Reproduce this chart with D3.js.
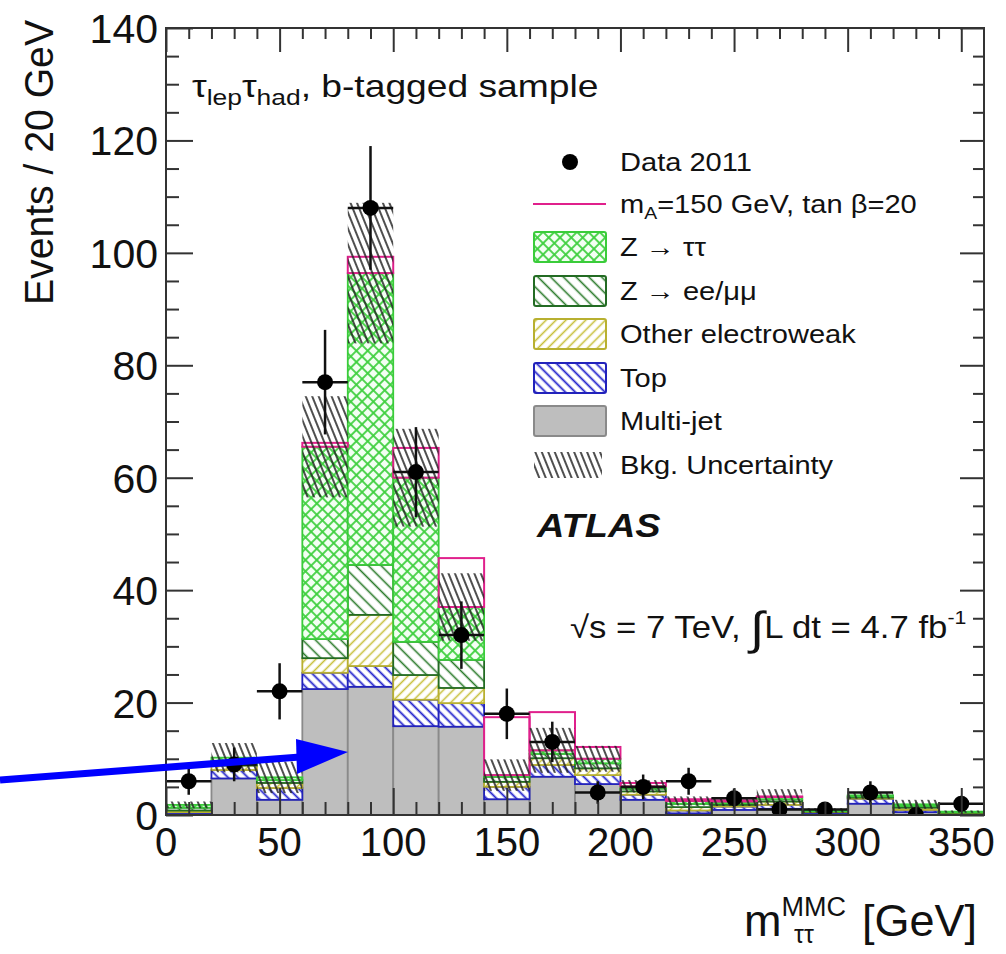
<!DOCTYPE html>
<html>
<head>
<meta charset="utf-8">
<script src="https://cdn.jsdelivr.net/npm/d3@7"></script>
<style>
  body { margin: 0; background: #fff; }
  text { font-family: "Liberation Sans", Arial, Helvetica, sans-serif; fill: #111; }
</style>
</head>
<body>
<svg id="plot" width="1006" height="954"></svg>
<script>
// bins of 20 GeV, lower edges
var binLow = [0, 20, 40, 60, 80, 100, 120, 140, 160, 180, 200, 220, 240, 260, 280, 300, 320, 340];
var binWidth = 20;

// stacked backgrounds, bottom to top
var multiJet = [0.2, 6.5, 2.7, 22.4, 22.8, 15.8, 15.7, 2.8, 6.8, 5.5, 2.7, 0.3, 0.9, 1.1, 0.2, 2.0, 0.5, 0.1];
var topQ     = [0.3, 1.5, 2.1, 2.9, 3.7, 4.7, 4.2, 2.2, 2.1, 1.6, 0.9, 0.5, 0.6, 0.7, 0.3, 0.9, 0.4, 0.2];
var otherEW  = [0.3, 0.8, 0.9, 2.6, 9.1, 4.4, 2.7, 0.9, 1.2, 1.2, 0.6, 0.6, 0.3, 0.6, 0.1, 0.2, 0.4, 0.1];
var zll      = [0.5, 0.8, 0.5, 3.4, 8.9, 5.9, 5.0, 0.9, 0.8, 0.9, 0.5, 0.6, 0.3, 0.4, 0.1, 0.2, 0.3, 0.1];
var ztt      = [0.5, 0.6, 0.5, 34.2, 51.9, 29.2, 9.4, 0.3, 0.6, 0.8, 0.4, 0.5, 0.3, 0.4, 0.1, 0.2, 0.3, 0.1];
// signal mA=150, tan beta=20 stacked on top
var signal   = [0, 0, 0, 0.7, 2.9, 5.3, 8.7, 10.3, 6.8, 2.1, 0.6, 0.3, 0.2, 0.1, 0, 0, 0, 0];
// background uncertainty (half width of band)
var bkgUnc   = [0.6, 2.6, 2.8, 9.0, 12.5, 8.7, 6.0, 2.8, 4.0, 2.3, 1.1, 0.8, 0.8, 1.4, 0.4, 0.6, 0.8, 0.2];
// data 2011
var dataVal  = [6, 9, 22, 77, 108, 61, 32, 18, 13, 4, 5, 6, 3, 1, 1, 4, 0, 2];
var dataErr  = [2.4, 3, 5, 9.3, 11, 8, 6, 4.5, 3.6, 2, 2.2, 2.4, 1.7, 1, 1, 2, 0, 1.4];

var xMajor = [0, 50, 100, 150, 200, 250, 300, 350];
var xMinor = [10, 20, 30, 40, 60, 70, 80, 90, 110, 120, 130, 140, 160, 170, 180, 190, 210, 220, 230, 240, 260, 270, 280, 290, 310, 320, 330, 340];
var yMajor = [0, 20, 40, 60, 80, 100, 120, 140];
var yMinor = [5, 10, 15, 25, 30, 35, 45, 50, 55, 65, 70, 75, 85, 90, 95, 105, 110, 115, 125, 130, 135];

var svg = d3.select("#plot");
var margin = {top: 28, right: 22, bottom: 139, left: 166};
var width = 1006 - margin.left - margin.right,
    height = 954 - margin.top - margin.bottom;

var x = d3.scaleLinear().domain([0, 360]).range([margin.left, margin.left + width]);
var y = d3.scaleLinear().domain([0, 140]).range([margin.top + height, margin.top]);

var defs = svg.append("defs");
defs.append("clipPath").attr("id", "clip")
  .append("rect").attr("x", margin.left).attr("y", margin.top).attr("width", width).attr("height", height);

function hatch(id, color, angle, spacing, lw, bg) {
  var p = defs.append("pattern").attr("id", id)
    .attr("patternUnits", "userSpaceOnUse")
    .attr("width", spacing).attr("height", spacing)
    .attr("patternTransform", "rotate(" + angle + ")");
  if (bg) p.append("rect").attr("width", spacing).attr("height", spacing).attr("fill", bg);
  p.append("line").attr("x1", spacing / 2).attr("x2", spacing / 2).attr("y1", 0).attr("y2", spacing)
    .attr("stroke", color).attr("stroke-width", lw);
  return p;
}
var cross = hatch("p-ztt", "#3fd03f", 45, 8, 1.8, "#f3fff3");
cross.append("line").attr("x1", 0).attr("x2", 8).attr("y1", 4).attr("y2", 4)
  .attr("stroke", "#3fd03f").attr("stroke-width", 1.8);
hatch("p-zll", "#2a7a2a", -45, 9, 1.6, "#ffffff");
hatch("p-ew", "#c8c03c", 45, 7, 1.6, "#ffffff");
hatch("p-top", "#2222cc", -45, 7, 1.8, "#ffffff");
hatch("p-unc", "#222222", -22, 6, 1.6, null);

var comps = [
  {name: "multijet", vals: multiJet, fill: "#bebebe", stroke: "#8a8a8a"},
  {name: "top", vals: topQ, fill: "url(#p-top)", stroke: "#2222bb"},
  {name: "ew", vals: otherEW, fill: "url(#p-ew)", stroke: "#b8b030"},
  {name: "zll", vals: zll, fill: "url(#p-zll)", stroke: "#236b23"},
  {name: "ztt", vals: ztt, fill: "url(#p-ztt)", stroke: "#3acc3a"}
];

// cumulative stack
var base = binLow.map(function() { return 0; });
var stackData = [];
comps.forEach(function(c, ci) {
  c.vals.forEach(function(v, i) {
    stackData.push({ci: ci, x0: binLow[i], y0: base[i], y1: base[i] + v, c: c});
    base[i] += v;
  });
});
var bkgTotal = base.slice();

var plotG = svg.append("g").attr("clip-path", "url(#clip)");

plotG.selectAll("rect.stack")
  .data(stackData)
  .enter().append("rect")
  .attr("class", "stack")
  .attr("x", function(d) { return x(d.x0); })
  .attr("width", function(d) { return x(d.x0 + binWidth) - x(d.x0); })
  .attr("y", function(d) { return y(d.y1); })
  .attr("height", function(d) { return Math.max(0, y(d.y0) - y(d.y1)); })
  .attr("fill", function(d) { return d.c.fill; })
  .attr("stroke", function(d) { return d.c.stroke; })
  .attr("stroke-width", 1.8);

// signal outline on top of background
plotG.selectAll("rect.sig")
  .data(binLow.filter(function(b, i) { return signal[i] > 0; }))
  .enter().append("rect")
  .attr("class", "sig")
  .attr("x", function(b) { return x(b); })
  .attr("width", x(binWidth) - x(0))
  .attr("y", function(b) { var i = binLow.indexOf(b); return y(bkgTotal[i] + signal[i]); })
  .attr("height", function(b) { var i = binLow.indexOf(b); return y(bkgTotal[i]) - y(bkgTotal[i] + signal[i]); })
  .attr("fill", "none")
  .attr("stroke", "#e0208c")
  .attr("stroke-width", 2);

// background uncertainty band
plotG.selectAll("rect.unc")
  .data(binLow)
  .enter().append("rect")
  .attr("class", "unc")
  .attr("x", function(b) { return x(b); })
  .attr("width", x(binWidth) - x(0))
  .attr("y", function(b, i) { return y(bkgTotal[i] + bkgUnc[i]); })
  .attr("height", function(b, i) { return y(Math.max(0, bkgTotal[i] - bkgUnc[i])) - y(bkgTotal[i] + bkgUnc[i]); })
  .attr("fill", "url(#p-unc)");

// data points
var dg = plotG.selectAll("g.data").data(binLow).enter().append("g").attr("class", "data");
dg.append("line")
  .attr("x1", function(b) { return x(b); })
  .attr("x2", function(b) { return x(b + binWidth); })
  .attr("y1", function(b, i) { return y(dataVal[i]); })
  .attr("y2", function(b, i) { return y(dataVal[i]); })
  .attr("stroke", function(b, i) { return dataVal[i] > 0 ? "#111" : "none"; })
  .attr("stroke-width", 2.5);
dg.append("line")
  .attr("x1", function(b) { return x(b + binWidth / 2); })
  .attr("x2", function(b) { return x(b + binWidth / 2); })
  .attr("y1", function(b, i) { return y(dataVal[i] - dataErr[i]); })
  .attr("y2", function(b, i) { return y(dataVal[i] + dataErr[i]); })
  .attr("stroke", "#111")
  .attr("stroke-width", 2.5);
dg.append("circle")
  .attr("cx", function(b) { return x(b + binWidth / 2); })
  .attr("cy", function(b, i) { return y(dataVal[i]); })
  .attr("r", 8)
  .attr("fill", "#000");

// frame and ticks on all four sides
var axisG = svg.append("g");
function tickAxis(gen, scale, vals, size, tr) {
  axisG.append("g")
    .attr("transform", tr)
    .call(gen(scale).tickValues(vals).tickSize(size).tickFormat(""))
    .call(function(g) { g.select(".domain").remove(); g.selectAll("line").attr("stroke", "#333").attr("stroke-width", 2); });
}
var bottomY = margin.top + height, rightX = margin.left + width;
tickAxis(d3.axisBottom, x, xMajor, -27, "translate(0," + bottomY + ")");
tickAxis(d3.axisBottom, x, xMinor, -13, "translate(0," + bottomY + ")");
tickAxis(d3.axisTop, x, xMajor, -24, "translate(0," + margin.top + ")");
tickAxis(d3.axisTop, x, xMinor, -11, "translate(0," + margin.top + ")");
tickAxis(d3.axisLeft, y, yMajor, -27, "translate(" + margin.left + ",0)");
tickAxis(d3.axisLeft, y, yMinor, -13, "translate(" + margin.left + ",0)");
tickAxis(d3.axisRight, y, yMajor, -24, "translate(" + rightX + ",0)");
tickAxis(d3.axisRight, y, yMinor, -11, "translate(" + rightX + ",0)");

axisG.append("rect")
  .attr("x", margin.left).attr("y", margin.top)
  .attr("width", width).attr("height", height)
  .attr("fill", "none").attr("stroke", "#333").attr("stroke-width", 2);

// tick labels
axisG.selectAll("text.xl").data(xMajor).enter().append("text")
  .attr("x", function(d) { return x(d); })
  .attr("y", bottomY + 41)
  .attr("text-anchor", "middle")
  .style("font-size", "40px")
  .text(function(d) { return d; });
axisG.selectAll("text.yl").data(yMajor).enter().append("text")
  .attr("x", margin.left - 8)
  .attr("y", function(d) { return y(d) + 15; })
  .attr("text-anchor", "end")
  .style("font-size", "41px")
  .text(function(d) { return d; });

// axis titles
svg.append("text")
  .attr("transform", "translate(53,305) rotate(-90)")
  .attr("textLength", 285).attr("lengthAdjust", "spacingAndGlyphs")
  .style("font-size", "40px")
  .text("Events / 20 GeV");

var xt = svg.append("text").attr("x", 744).attr("y", 936).style("font-size", "45px");
xt.append("tspan").text("m");
xt.append("tspan").attr("dy", -20).style("font-size", "27px").text("MMC");
xt.append("tspan").attr("x", 794).attr("dy", 27).style("font-size", "25px").text("ττ");
xt.append("tspan").attr("x", 862).attr("dy", -7).text("[GeV]");

// texts inside the frame are drawn a little wide, as in the original
function wideText(px, py, sx, size) {
  return svg.append("text")
    .attr("transform", "translate(" + px + "," + py + ") scale(" + sx + ",1)")
    .style("font-size", size + "px");
}

// sample label
var tl = wideText(192, 97, 1.2, 31);
tl.append("tspan").text("τ");
tl.append("tspan").attr("dy", 8).style("font-size", "22px").text("lep");
tl.append("tspan").attr("dy", -8).text("τ");
tl.append("tspan").attr("dy", 8).style("font-size", "22px").text("had");
tl.append("tspan").attr("dy", -8).text(", b-tagged sample");

// legend
var legendY = [162, 204, 247, 291, 334, 378, 421, 465];
var lg = svg.append("g");
lg.append("circle").attr("cx", 570).attr("cy", legendY[0]).attr("r", 8).attr("fill", "#000");
lg.append("line").attr("x1", 533).attr("x2", 606).attr("y1", legendY[1]).attr("y2", legendY[1])
  .attr("stroke", "#e0208c").attr("stroke-width", 2);
comps.slice().reverse().forEach(function(c, i) {
  lg.append("rect")
    .attr("x", 534).attr("y", legendY[i + 2] - 15)
    .attr("width", 72).attr("height", 30)
    .attr("rx", 2)
    .attr("fill", c.fill).attr("stroke", c.stroke).attr("stroke-width", 2);
});
lg.append("rect").attr("x", 534).attr("y", legendY[7] - 13).attr("width", 68).attr("height", 26)
  .attr("fill", "url(#p-unc)");

function legendText(i) {
  return wideText(620, legendY[i] + 9, 1.14, 25.5);
}
legendText(0).text("Data 2011");
var sl = legendText(1);
sl.append("tspan").text("m");
sl.append("tspan").attr("dy", 6).style("font-size", "17px").text("A");
sl.append("tspan").attr("dy", -6).text("=150 GeV, tan β=20");
legendText(2).text("Z → ττ");
legendText(3).text("Z → ee/μμ");
legendText(4).text("Other electroweak");
legendText(5).text("Top");
legendText(6).text("Multi-jet");
legendText(7).text("Bkg. Uncertainty");

// ATLAS label and lumi
wideText(537, 537, 1.15, 33)
  .style("font-weight", "bold").style("font-style", "italic")
  .text("ATLAS");
var lt = wideText(570, 638, 1.12, 31);
lt.append("tspan").text("√s = 7 TeV, ");
lt.append("tspan").style("font-size", "46px").attr("dy", 6).text("∫");
lt.append("tspan").attr("dy", -6).text("L dt = 4.7 fb");
lt.append("tspan").attr("dy", -14).style("font-size", "19px").text("-1");

// blue annotation arrow
svg.append("line").attr("x1", 0).attr("y1", 780).attr("x2", 300).attr("y2", 757)
  .attr("stroke", "#0000ff").attr("stroke-width", 7);
svg.append("polygon").attr("points", "296,739 348,752 297,774").attr("fill", "#0000ff");
</script>
</body>
</html>
